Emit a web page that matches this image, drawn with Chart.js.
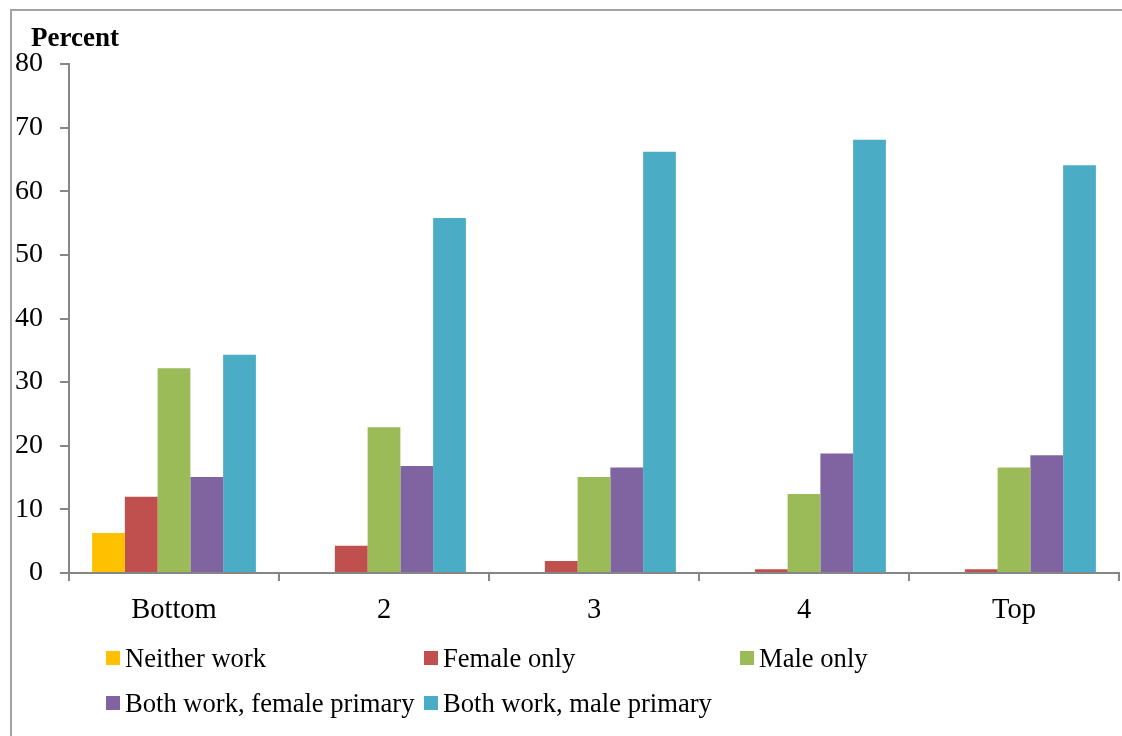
<!DOCTYPE html>
<html>
<head>
<meta charset="utf-8">
<script src="https://cdn.jsdelivr.net/npm/chart.js@4.4.1/dist/chart.umd.min.js"></script>
<style>
  html, body { margin: 0; padding: 0; background: #fff; }
  #wrap { position: relative; width: 1122px; height: 736px; }
</style>
</head>
<body>
<div id="wrap"><canvas id="quintileChart" width="1122" height="736"></canvas></div>
<script>
// earnings quintiles
const quintiles = ['Bottom', '2', '3', '4', 'Top'];

// share of couples (percent) by who works
const neitherWork = [6.3, 0, 0, 0, 0];
const femaleOnly = [12.0, 4.3, 1.9, 0.6, 0.6];
const maleOnly = [32.2, 22.9, 15.1, 12.4, 16.6];
const bothFemalePrimary = [15.1, 16.8, 16.6, 18.8, 18.5];
const bothMalePrimary = [34.3, 55.8, 66.2, 68.1, 64.1];

const seriesNames = ['Neither work', 'Female only', 'Male only', 'Both work, female primary', 'Both work, male primary'];
const seriesColors = ['#FFC000', '#C0504D', '#9BBB59', '#8064A2', '#4BACC6'];

const yMin = 0, yMax = 80, yStep = 10;

const serif = '"Liberation Serif", "Times New Roman", serif';
const axisGray = '#868686';

// frame, y-axis caption and the two-row legend
const extras = {
  id: 'extras',
  afterDraw(chart) {
    const ctx = chart.ctx;
    ctx.save();

    ctx.strokeStyle = '#a3a3a3';
    ctx.lineWidth = 2;
    ctx.beginPath();
    ctx.moveTo(11, 736);
    ctx.lineTo(11, 10);
    ctx.lineTo(1122, 10);
    ctx.stroke();

    ctx.fillStyle = '#000';
    ctx.font = 'bold 27px ' + serif;
    ctx.textBaseline = 'alphabetic';
    ctx.textAlign = 'left';
    ctx.fillText('Percent', 31, 46);

    const cols = [106, 424, 740];
    const rows = [667, 712];
    ctx.font = '26.6px ' + serif;
    chart.data.datasets.forEach((ds, i) => {
      const x = cols[i % 3];
      const y = rows[Math.floor(i / 3)];
      ctx.fillStyle = ds.backgroundColor;
      ctx.fillRect(x, y - 16, 14, 14);
      ctx.fillStyle = '#000';
      ctx.fillText(ds.label, x + 19, y);
    });

    ctx.restore();
  }
};

new Chart(document.getElementById('quintileChart'), {
  type: 'bar',
  data: {
    labels: quintiles,
    datasets: [neitherWork, femaleOnly, maleOnly, bothFemalePrimary, bothMalePrimary].map((vals, i) => ({
      label: seriesNames[i],
      data: vals,
      backgroundColor: seriesColors[i],
      borderWidth: 0,
      categoryPercentage: 0.78,
      barPercentage: 1.0
    }))
  },
  options: {
    responsive: false,
    animation: false,
    layout: { padding: { top: 64, right: 3, bottom: 103, left: 0 } },
    plugins: {
      legend: { display: false },
      tooltip: { enabled: false },
      title: { display: false }
    },
    scales: {
      x: {
        afterFit: (s) => { s.height = 60; },
        grid: { drawOnChartArea: false, drawTicks: true, tickLength: 8, color: axisGray, lineWidth: 2 },
        border: { color: axisGray, width: 2 },
        ticks: { color: '#000', font: { family: serif, size: 28.5 }, padding: 12 }
      },
      y: {
        min: yMin,
        max: yMax,
        afterFit: (s) => { s.width = 69; },
        grid: { drawOnChartArea: false, drawTicks: true, tickLength: 9, color: axisGray, lineWidth: 2 },
        border: { color: axisGray, width: 2 },
        ticks: { stepSize: yStep, color: '#000', font: { family: serif, size: 28 }, padding: 17 }
      }
    }
  },
  plugins: [extras]
});
</script>
</body>
</html>
